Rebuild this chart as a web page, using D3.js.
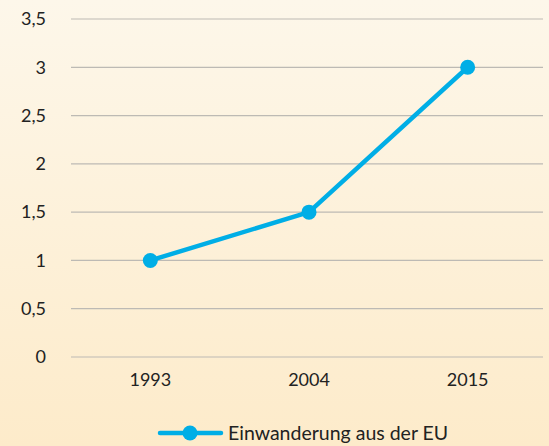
<!DOCTYPE html>
<html>
<head>
<meta charset="utf-8">
<script src="https://cdn.jsdelivr.net/npm/d3@7"></script>
<style>
  body { margin: 0; }
  svg text { font-family: "Lato", "Open Sans", sans-serif; fill: #222; }
</style>
</head>
<body>
<div id="chart"></div>
<script>
// chart data
var years = ["1993", "2004", "2015"];
var values = [1.0, 1.5, 3.0];
var yTicks = [0, 0.5, 1, 1.5, 2, 2.5, 3, 3.5];
var seriesName = "Einwanderung aus der EU";

var svgWidth = 549;
var svgHeight = 446;
var lineColor = "#00aee6";

var svg = d3.select("#chart")
  .append("svg")
  .attr("width", svgWidth)
  .attr("height", svgHeight);

// background gradient
var grad = svg.append("defs").append("linearGradient")
  .attr("id", "bg")
  .attr("x1", 0).attr("y1", 0).attr("x2", 0).attr("y2", 1);
grad.append("stop").attr("offset", "0%").attr("stop-color", "#fdf7ea");
grad.append("stop").attr("offset", "100%").attr("stop-color", "#fdebca");

svg.append("rect")
  .attr("width", svgWidth)
  .attr("height", svgHeight)
  .attr("fill", "url(#bg)");

var xScale = d3.scaleBand()
  .domain(years)
  .range([71, 547]);

var yScale = d3.scaleLinear()
  .domain([0, 3.5])
  .range([357, 19]);

var fmt = d => String(d).replace(".", ",");

// gridlines
svg.append("g")
  .selectAll("line")
  .data(yTicks)
  .enter()
  .append("line")
  .attr("x1", 71)
  .attr("x2", 543)
  .attr("y1", d => yScale(d))
  .attr("y2", d => yScale(d))
  .attr("stroke", "#bdbab4")
  .attr("stroke-width", 1.2);

// y axis labels
var yAxis = svg.append("g")
  .attr("transform", "translate(46,0)")
  .call(d3.axisLeft(yScale).tickValues(yTicks).tickFormat(fmt).tickSize(0).tickPadding(0));
yAxis.select(".domain").remove();
yAxis.selectAll("text")
  .style("font-size", "18px")
  .attr("fill", "#222");

// x axis labels
var xAxis = svg.append("g")
  .attr("transform", "translate(0,373)")
  .call(d3.axisBottom(xScale).tickSize(0).tickPadding(0));
xAxis.select(".domain").remove();
xAxis.selectAll("text")
  .style("font-size", "18px")
  .attr("fill", "#222");

var pts = years.map((y, i) => ({ year: y, value: values[i] }));

var line = d3.line()
  .x(d => xScale(d.year) + xScale.bandwidth() / 2)
  .y(d => yScale(d.value));

svg.append("path")
  .datum(pts)
  .attr("d", line)
  .attr("fill", "none")
  .attr("stroke", lineColor)
  .attr("stroke-width", 4.5)
  .attr("stroke-linejoin", "round");

svg.append("g")
  .selectAll("circle")
  .data(pts)
  .enter()
  .append("circle")
  .attr("cx", d => xScale(d.year) + xScale.bandwidth() / 2)
  .attr("cy", d => yScale(d.value))
  .attr("r", 7.5)
  .attr("fill", lineColor);

// legend
var legend = svg.append("g").attr("transform", "translate(160,433)");
legend.append("line")
  .attr("x1", 0).attr("x2", 61)
  .attr("y1", 0).attr("y2", 0)
  .attr("stroke", lineColor)
  .attr("stroke-width", 4.5)
  .attr("stroke-linecap", "round");
legend.append("circle")
  .attr("cx", 30).attr("cy", 0).attr("r", 7.5)
  .attr("fill", lineColor);
legend.append("text")
  .attr("x", 68)
  .attr("y", 0)
  .attr("dy", "0.35em")
  .style("font-size", "19.5px")
  .text(seriesName);
</script>
</body>
</html>
